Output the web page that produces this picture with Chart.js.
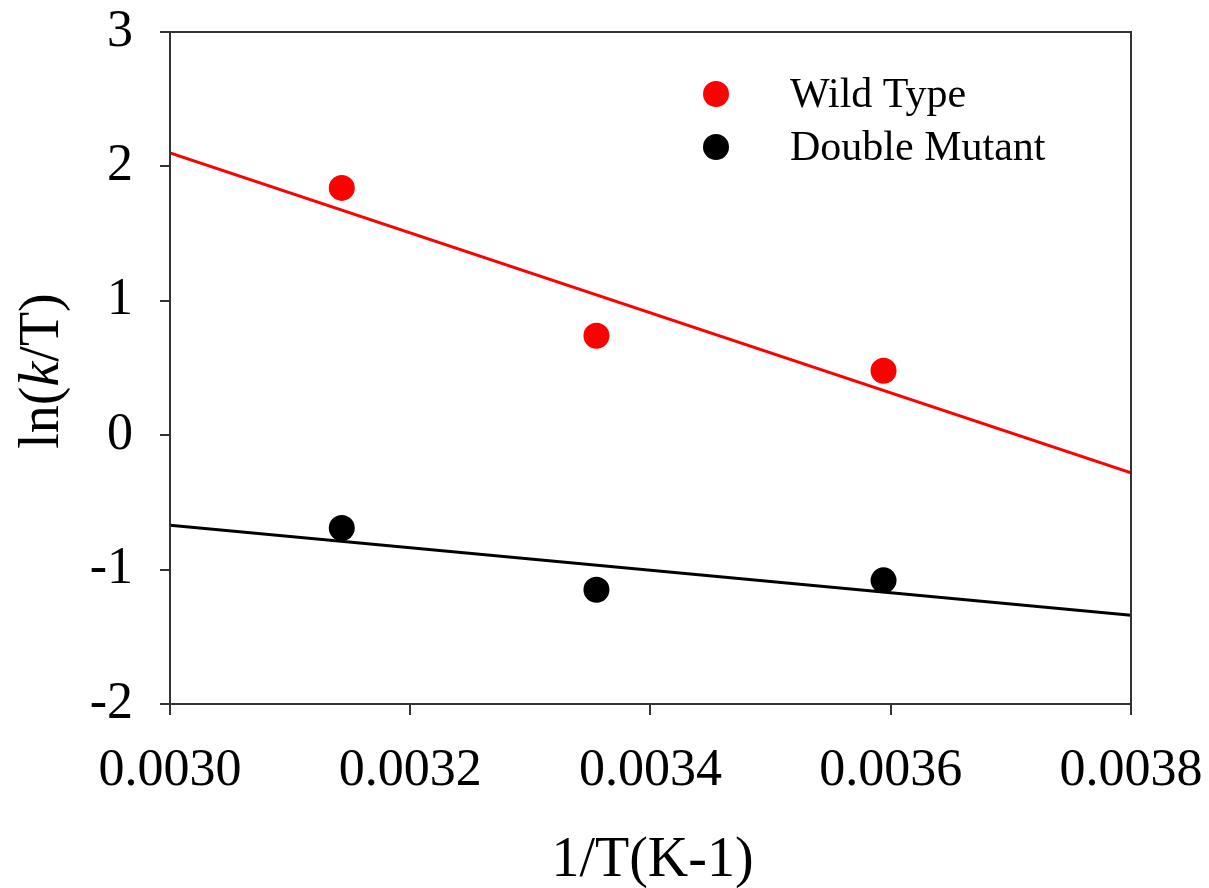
<!DOCTYPE html>
<html>
<head>
<meta charset="utf-8">
<script src="https://cdn.jsdelivr.net/npm/chart.js@4"></script>
<style>
  html, body { margin: 0; padding: 0; background: #fff; }
  #wrap { width: 1209px; height: 888px; }
</style>
</head>
<body>
<div id="wrap"><canvas id="arrhenius"></canvas></div>
<script>
// measured points, 1/T vs ln(k/T)
const invT = [0.003143, 0.003355, 0.003594];
const wildType = [1.84, 0.74, 0.48];
const doubleMutant = [-0.69, -1.15, -1.08];

// fitted lines, read at the axis ends
const fitX = [0.0030, 0.0038];
const wildFit = [2.10, -0.28];
const mutantFit = [-0.67, -1.34];

const xTicks = [0.0030, 0.0032, 0.0034, 0.0036, 0.0038];
const yTicks = [-2, -1, 0, 1, 2, 3];

const serif = '"Liberation Serif", "Times New Roman", serif';
const axisColor = '#333';

const pts = (xs, ys) => xs.map((x, i) => ({ x: x, y: ys[i] }));

// keep tick labels from pushing the plot area around
function noSpill(axis) {
  axis.paddingTop = 0;
  axis.paddingBottom = 0;
  axis.paddingLeft = 0;
  axis.paddingRight = 0;
}

// frame, axis titles and the legend box in the top right
const decor = {
  id: 'decor',
  afterDraw(chart) {
    const c = chart.ctx;
    const a = chart.chartArea;
    c.save();
    c.strokeStyle = axisColor;
    c.lineWidth = 2;
    c.strokeRect(a.left, a.top, a.right - a.left, a.bottom - a.top);

    c.fillStyle = '#000';
    c.textBaseline = 'alphabetic';
    c.textAlign = 'center';
    c.font = '56px ' + serif;
    c.fillText('1/T(K-1)', (a.left + a.right) / 2 + 2, 876);

    // y title with italic k
    const parts = [['ln(', ''], ['k', 'italic '], ['/T)', '']];
    let total = 0;
    parts.forEach(p => { c.font = p[1] + '56px ' + serif; total += c.measureText(p[0]).width; });
    c.translate(58, (a.top + a.bottom) / 2 + 3);
    c.rotate(-Math.PI / 2);
    c.textAlign = 'left';
    let x = -total / 2;
    parts.forEach(p => {
      c.font = p[1] + '56px ' + serif;
      c.fillText(p[0], x, 0);
      x += c.measureText(p[0]).width;
    });
    c.setTransform(1, 0, 0, 1, 0, 0);

    // legend
    const items = [[chart.data.datasets[0], 107], [chart.data.datasets[1], 160]];
    c.font = '42px ' + serif;
    c.textAlign = 'left';
    items.forEach(it => {
      c.fillStyle = it[0].backgroundColor;
      c.beginPath();
      c.arc(716, it[1] - 13, 13, 0, Math.PI * 2);
      c.fill();
      c.fillStyle = '#000';
      c.fillText(it[0].label, 790, it[1]);
    });
    c.restore();
  }
};

new Chart(document.getElementById('arrhenius'), {
  type: 'scatter',
  data: {
    datasets: [
      {
        label: 'Wild Type',
        data: pts(invT, wildType),
        backgroundColor: '#ff0000',
        borderWidth: 0,
        pointRadius: 13
      },
      {
        label: 'Double Mutant',
        data: pts(invT, doubleMutant),
        backgroundColor: '#000000',
        borderWidth: 0,
        pointRadius: 13
      },
      {
        type: 'line',
        label: 'Wild Type fit',
        data: pts(fitX, wildFit),
        borderColor: '#ff0000',
        borderWidth: 3,
        pointRadius: 0,
        fill: false
      },
      {
        type: 'line',
        label: 'Double Mutant fit',
        data: pts(fitX, mutantFit),
        borderColor: '#000000',
        borderWidth: 3,
        pointRadius: 0,
        fill: false
      }
    ]
  },
  options: {
    responsive: true,
    maintainAspectRatio: false,
    animation: false,
    layout: { padding: { top: 32, right: 78, left: 0, bottom: 0 } },
    plugins: {
      legend: { display: false },
      tooltip: { enabled: false }
    },
    scales: {
      x: {
        type: 'linear',
        min: 0.0030,
        max: 0.0038,
        afterBuildTicks: axis => { axis.ticks = xTicks.map(v => ({ value: v })); },
        afterFit: axis => { axis.height = 184; noSpill(axis); },
        grid: { drawOnChartArea: false, drawTicks: true, tickLength: 11, color: axisColor, lineWidth: 2 },
        border: { display: true, color: axisColor, width: 2 },
        ticks: {
          padding: 25,
          color: '#000',
          font: { family: serif, size: 52 },
          maxRotation: 0,
          callback: v => Number(v).toFixed(4)
        }
      },
      y: {
        type: 'linear',
        min: -2,
        max: 3,
        afterBuildTicks: axis => { axis.ticks = yTicks.map(v => ({ value: v })); },
        afterFit: axis => { axis.width = 170; noSpill(axis); },
        grid: { drawOnChartArea: false, drawTicks: true, tickLength: 10, color: axisColor, lineWidth: 2 },
        border: { display: true, color: axisColor, width: 2 },
        ticks: {
          padding: 27,
          color: '#000',
          font: { family: serif, size: 52 },
          callback: v => String(v)
        }
      }
    }
  },
  plugins: [decor]
});
</script>
</body>
</html>
